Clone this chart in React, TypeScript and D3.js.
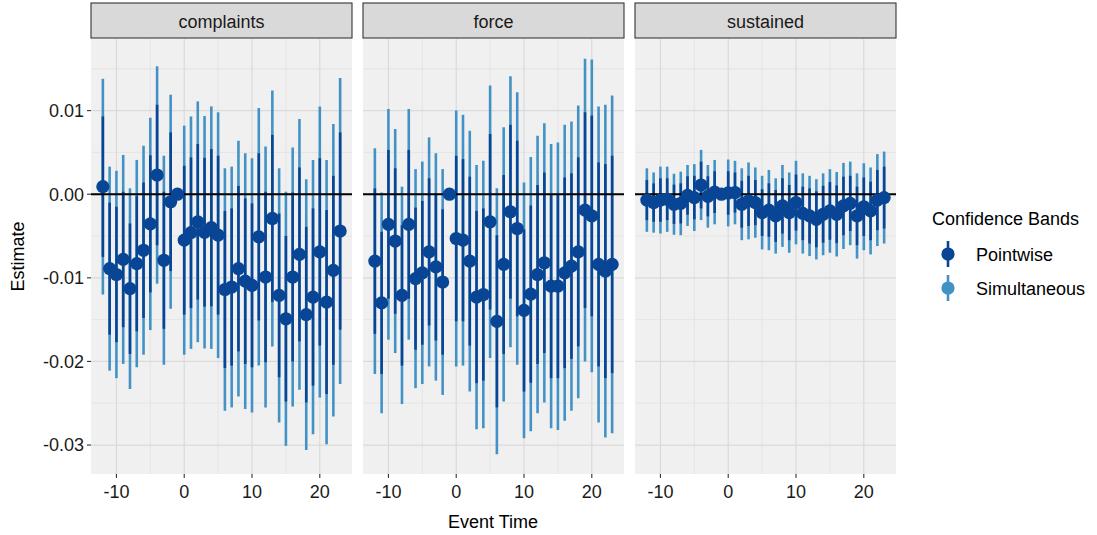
import * as d3 from "d3";
import React from "react";

// event time (reference period is -1)
const eventTime = [-12, -11, -10, -9, -8, -7, -6, -5, -4, -3, -2, -1, 0, 1, 2, 3, 4, 5,
  6, 7, 8, 9, 10, 11, 12, 13, 14, 15, 16, 17, 18, 19, 20, 21, 22, 23];

const panels = ["complaints", "force", "sustained"];

// estimates and half-widths, in thousandths
const complaintsEst = [0.9, -8.9, -9.6, -7.8, -11.3, -8.3, -6.7, -3.55, 2.3, -7.9, -0.9, 0,
  -5.5, -4.6, -3.3, -4.55, -4.0, -4.9, -11.4, -11.1, -8.9, -10.4, -10.9, -5.1, -9.9, -2.9,
  -12.1, -14.9, -9.9, -7.2, -14.4, -12.3, -6.9, -12.9, -9.1, -4.4];
const complaintsPw = [8.4, 7.9, 8.1, 8.1, 7.8, 8.1, 8.1, 8.2, 8.4, 8.2, 8.3, 0,
  8.9, 9.0, 9.3, 8.9, 9.4, 9.5, 9.4, 9.4, 9.9, 9.9, 9.8, 10.0, 10.2, 10.0,
  9.8, 9.9, 10.1, 10.4, 10.5, 10.6, 11.2, 11.0, 11.3, 11.8];
const complaintsSim = [12.9, 12.2, 12.4, 12.5, 12.0, 12.4, 12.5, 12.7, 13.0, 12.5, 12.8, 0,
  13.7, 13.9, 14.4, 13.9, 14.5, 14.7, 14.5, 14.4, 15.3, 15.3, 15.2, 15.4, 15.6, 15.3,
  15.2, 15.2, 15.5, 16.2, 16.2, 16.4, 17.4, 17.0, 17.5, 18.3];

const forceEst = [-8.0, -13.0, -3.6, -5.6, -12.1, -3.6, -10.1, -9.4, -6.9, -8.7, -10.5, 0,
  -5.3, -5.5, -8.0, -12.3, -12.0, -3.3, -15.2, -8.4, -2.1, -4.1, -13.9, -11.95, -9.6, -8.2,
  -11.0, -11.0, -9.4, -8.6, -6.9, -1.9, -2.6, -8.4, -9.2, -8.4];
const forcePw = [8.7, 8.5, 8.9, 8.7, 8.4, 8.9, 8.5, 8.6, 8.8, 8.8, 8.7, 0,
  9.9, 9.7, 10.1, 10.3, 10.3, 10.5, 10.3, 10.7, 10.4, 10.5, 9.7, 10.6, 10.7, 10.8,
  11.0, 11.0, 11.4, 11.1, 11.3, 11.7, 12.0, 12.2, 12.8, 13.0];
const forceSim = [13.5, 13.2, 13.8, 13.4, 13.0, 13.8, 13.1, 13.3, 13.7, 13.6, 13.5, 0,
  15.3, 15.0, 15.6, 15.8, 16.0, 16.3, 15.9, 16.4, 16.2, 16.3, 15.3, 16.4, 16.6, 16.7,
  17.0, 17.2, 17.7, 17.3, 17.5, 18.1, 18.7, 18.9, 19.9, 20.2];

const sustainedEst = [-0.7, -1.0, -0.7, -0.6, -1.2, -1.1, -0.15, -0.4, 1.1, -0.25, 0.25, 0,
  0.15, 0.2, -1.2, -0.8, -1.0, -2.2, -1.9, -2.6, -1.4, -2.2, -1.0, -2.3, -2.6, -3.0,
  -2.4, -2.0, -2.4, -1.4, -1.1, -2.6, -1.5, -2.0, -0.7, -0.4];
const sustainedPw = [2.4, 2.3, 2.6, 2.5, 2.35, 2.4, 2.3, 2.6, 2.8, 2.4, 2.5, 0,
  2.6, 2.4, 2.8, 3.0, 2.7, 2.8, 3.2, 3.1, 3.3, 3.3, 3.35, 3.2, 3.3, 3.35,
  3.4, 3.45, 3.45, 3.5, 3.3, 3.5, 3.5, 3.5, 3.6, 3.7];
const sustainedSim = [3.8, 3.6, 4.0, 3.9, 3.65, 3.8, 3.65, 4.0, 4.2, 3.75, 3.85, 0,
  4.0, 3.8, 4.3, 4.6, 4.2, 4.4, 4.8, 4.5, 4.9, 4.8, 5.0, 4.8, 4.8, 4.8,
  4.9, 5.0, 5.05, 5.15, 5.0, 5.1, 5.2, 5.2, 5.5, 5.5];

const xTicks = [-10, 0, 10, 20];
const xMinor = [-5, 5, 15];
const yTicks = [0.01, 0, -0.01, -0.02, -0.03];
const yMinor = [0.015, 0.005, -0.005, -0.015, -0.025];

const legendLabels = ["Pointwise", "Simultaneous"];

const DARK = "#084594";
const LIGHT = "#4292c6";
const FONT = "'Liberation Sans', Arial, Helvetica, sans-serif";

interface Row { t: number; est: number; pw: number; sim: number }

const build = (est: number[], pw: number[], sim: number[]): Row[] =>
  eventTime.map((t, i) => ({ t, est: est[i] / 1000, pw: pw[i] / 1000, sim: sim[i] / 1000 }));

const series: Row[][] = [
  build(complaintsEst, complaintsPw, complaintsSim),
  build(forceEst, forcePw, forceSim),
  build(sustainedEst, sustainedPw, sustainedSim),
];

const panelLeft = [91, 363, 635];
const panelW = 261;
const top = 39;
const bottom = 474;

// ggplot-style labels use a plain hyphen, not the unicode minus
const fmtY = (v: number) => d3.format(".2f")(v).replace("\u2212", "-");
const fmtX = (v: number) => String(v);

const App: React.FC = () => {
  const all = series.flat();
  const lo = d3.min(all, (d) => d.est - d.sim) as number;
  const hi = d3.max(all, (d) => d.est + d.sim) as number;
  const pad = (hi - lo) * 0.05;
  const y = d3.scaleLinear().domain([lo - pad, hi + pad]).range([bottom, top]);

  const [t0, t1] = d3.extent(eventTime) as [number, number];
  const tp = (t1 - t0) * 0.05;
  const x = d3.scaleLinear().domain([t0 - tp, t1 + tp]).range([0, panelW]);

  return (
    <svg width={1097} height={535} style={{ position: "absolute", left: 0, top: 0 }}
      fontFamily={FONT}>
      <rect width={1097} height={535} fill="#ffffff" />
      {panels.map((name, p) => (
        <g key={name} transform={`translate(${panelLeft[p]},0)`}>
          {/* strip */}
          <rect x={0} y={3} width={panelW} height={35} fill="#d9d9d9" stroke="#333333" strokeWidth={1.1} />
          <text x={panelW / 2} y={27.5} textAnchor="middle" fontSize={18} fill="#1a1a1a">{name}</text>
          {/* panel */}
          <rect x={0} y={top} width={panelW} height={bottom - top} fill="#f0f0f0" />
          {yMinor.map((v) => (
            <line key={`ym${v}`} x1={0} x2={panelW} y1={y(v)} y2={y(v)} stroke="#e2e2e2" strokeWidth={0.8} />
          ))}
          {xMinor.map((v) => (
            <line key={`xm${v}`} x1={x(v)} x2={x(v)} y1={top} y2={bottom} stroke="#e2e2e2" strokeWidth={0.8} />
          ))}
          {yTicks.map((v) => (
            <line key={`yM${v}`} x1={0} x2={panelW} y1={y(v)} y2={y(v)} stroke="#dadada" strokeWidth={1.2} />
          ))}
          {xTicks.map((v) => (
            <line key={`xM${v}`} x1={x(v)} x2={x(v)} y1={top} y2={bottom} stroke="#dadada" strokeWidth={1.2} />
          ))}
          {/* simultaneous bands */}
          {series[p].map((d) => (
            <line key={`s${d.t}`} x1={x(d.t)} x2={x(d.t)} y1={y(d.est - d.sim)} y2={y(d.est + d.sim)}
              stroke={LIGHT} strokeWidth={2.6} />
          ))}
          {/* pointwise bands */}
          {series[p].map((d) => (
            <line key={`p${d.t}`} x1={x(d.t)} x2={x(d.t)} y1={y(d.est - d.pw)} y2={y(d.est + d.pw)}
              stroke={DARK} strokeWidth={2.6} />
          ))}
          <line x1={0} x2={panelW} y1={y(0)} y2={y(0)} stroke="#000000" strokeWidth={2} />
          {series[p].map((d) => (
            <circle key={`c${d.t}`} cx={x(d.t)} cy={y(d.est)} r={6.6} fill={DARK} />
          ))}
          {/* x axis */}
          {xTicks.map((v) => (
            <g key={`xt${v}`}>
              <line x1={x(v)} x2={x(v)} y1={bottom} y2={bottom + 4} stroke="#333333" strokeWidth={1.1} />
              <text x={x(v)} y={498} textAnchor="middle" fontSize={18} fill="#1a1a1a">{fmtX(v)}</text>
            </g>
          ))}
        </g>
      ))}
      {/* y axis */}
      {yTicks.map((v) => (
        <g key={`yt${v}`}>
          <line x1={87} x2={91} y1={y(v)} y2={y(v)} stroke="#333333" strokeWidth={1.1} />
          <text x={84} y={y(v)} dy="0.35em" textAnchor="end" fontSize={18} fill="#1a1a1a">{fmtY(v)}</text>
        </g>
      ))}
      <text x={493} y={528} textAnchor="middle" fontSize={18} fill="#000000">Event Time</text>
      <text transform={`translate(24,${(top + bottom) / 2}) rotate(-90)`} textAnchor="middle"
        fontSize={18} fill="#000000">Estimate</text>
      {/* legend */}
      <text x={932} y={225} fontSize={18} fill="#000000">Confidence Bands</text>
      {legendLabels.map((lab, i) => {
        const cy = 254 + i * 34;
        const col = i === 0 ? DARK : LIGHT;
        return (
          <g key={lab}>
            <line x1={948} x2={948} y1={cy - 13} y2={cy + 13} stroke={col} strokeWidth={2.6} />
            <circle cx={948} cy={cy} r={6.6} fill={col} />
            <text x={976} y={cy + 6.5} fontSize={18} fill="#000000">{lab}</text>
          </g>
        );
      })}
    </svg>
  );
};

export default App;
